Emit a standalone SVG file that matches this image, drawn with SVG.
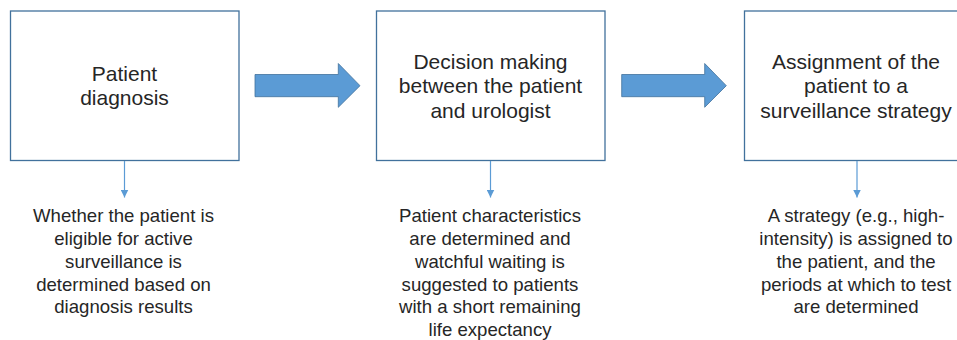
<svg xmlns="http://www.w3.org/2000/svg" width="957" height="340" viewBox="0 0 957 340">
<defs>
<style>
.box{fill:#fff;stroke:#41719C;stroke-width:1.3}
.big{fill:#5B9BD5;stroke:#41719C;stroke-width:0.8}
.ln{stroke:#5B9BD5;stroke-width:1.2;fill:none}
.t{font-family:"Liberation Sans",Arial,sans-serif;font-size:21px;fill:#262626;text-anchor:middle}
.s{font-family:"Liberation Sans",Arial,sans-serif;font-size:18.6px;fill:#262626;text-anchor:middle}
</style>
<marker id="ah" markerWidth="8" markerHeight="8" viewBox="0 0 8 8" refX="8" refY="4" orient="auto" markerUnits="userSpaceOnUse">
<path d="M0,0 L8,4 L0,8 Z" fill="#5B9BD5"/>
</marker>
</defs>
<g id="node1">
<rect class="box" x="10.5" y="11" width="228.5" height="149.5"/>
<text class="t" x="124.5" y="81">Patient</text>
<text class="t" x="124.5" y="105">diagnosis</text>
</g>
<g id="node2">
<rect class="box" x="376.5" y="11" width="228.5" height="149.5"/>
<text class="t" x="490.5" y="69">Decision making</text>
<text class="t" x="490.5" y="93">between the patient</text>
<text class="t" x="490.5" y="118">and urologist</text>
</g>
<g id="node3">
<rect class="box" x="744.5" y="11" width="228.5" height="149.5"/>
<text class="t" x="856" y="69">Assignment of the</text>
<text class="t" x="856" y="93">patient to a</text>
<text class="t" x="856" y="118">surveillance strategy</text>
</g>
<g id="note1">
<text class="s" x="123.5" y="222">Whether the patient is</text>
<text class="s" x="123.5" y="245">eligible for active</text>
<text class="s" x="123.5" y="267.5">surveillance is</text>
<text class="s" x="123.5" y="290.5">determined based on</text>
<text class="s" x="123.5" y="313">diagnosis results</text>
</g>
<g id="note2">
<text class="s" x="490" y="222">Patient characteristics</text>
<text class="s" x="490" y="245">are determined and</text>
<text class="s" x="490" y="267.5">watchful waiting is</text>
<text class="s" x="490" y="290.5">suggested to patients</text>
<text class="s" x="490" y="313">with a short remaining</text>
<text class="s" x="490" y="335.5">life expectancy</text>
</g>
<g id="note3">
<text class="s" x="856" y="222">A strategy (e.g., high-</text>
<text class="s" x="856" y="245">intensity) is assigned to</text>
<text class="s" x="856" y="267.5">the patient, and the</text>
<text class="s" x="856" y="290.5">periods at which to test</text>
<text class="s" x="856" y="313">are determined</text>
</g>
<g id="connectors">
<path class="big" d="M255,74.5 L338.3,74.5 L338.3,63.5 L360,85.7 L338.3,107.3 L338.3,96.7 L255,96.7 Z"/>
<path class="big" d="M621.7,74.5 L704.7,74.5 L704.7,63.5 L726.3,85.7 L704.7,107.3 L704.7,96.7 L621.7,96.7 Z"/>
<line class="ln" x1="124.5" y1="161" x2="124.5" y2="197.5" marker-end="url(#ah)"/>
<line class="ln" x1="490.5" y1="161" x2="490.5" y2="197.5" marker-end="url(#ah)"/>
<line class="ln" x1="857" y1="161" x2="857" y2="197.5" marker-end="url(#ah)"/>
</g>
</svg>
